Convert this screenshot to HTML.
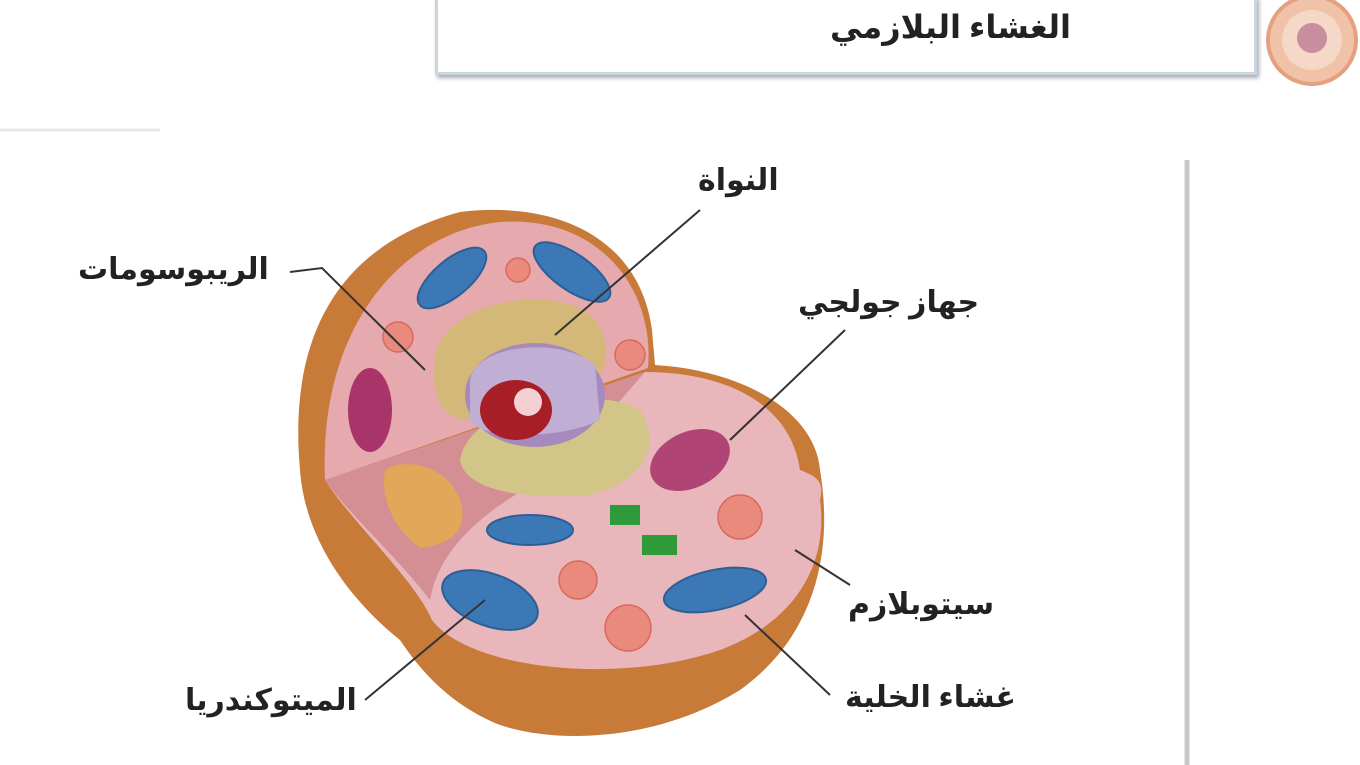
<!DOCTYPE html><html><head><meta charset="utf-8"><style>
body{margin:0;background:#fff;width:1360px;height:765px;overflow:hidden;position:relative;font-family:"Liberation Serif","Noto Serif CJK SC","DejaVu Sans",serif}
.l{position:absolute;font-weight:bold;font-size:30px;color:#222;direction:rtl;white-space:nowrap}
</style></head><body>
<div style="position:absolute;left:435px;top:-4px;width:816px;height:76px;border:3px solid #c9d6dd;border-top:none;box-shadow:2px 3px 4px #aab"></div>
<div class="l" style="left:830px;top:8px;font-size:32px">الغشاء البلازمي</div>
<svg width="1360" height="765" style="position:absolute;left:0;top:0">
<circle cx="1312" cy="40" r="44" fill="#f0c2a8" stroke="#e4a080" stroke-width="4"/>
<circle cx="1312" cy="40" r="30" fill="#f6d8c8"/>
<circle cx="1312" cy="38" r="15" fill="#c88fa0"/>
<line x1="0" y1="130" x2="160" y2="130" stroke="#e8e8e8" stroke-width="3"/>
<line x1="1187" y1="160" x2="1187" y2="765" stroke="#c8c8c8" stroke-width="5"/>
<path d="M300,470 C290,360 320,250 460,212 C560,200 640,240 652,330 L655,365 C740,370 815,410 820,470 C835,560 810,640 740,690 C660,740 560,745 500,725 C450,705 420,670 400,640 C350,600 305,540 300,470Z" fill="#c87a38"/>
<path d="M325,480 C318,330 400,232 500,222 C600,215 655,290 648,368 Z" fill="#e5a9ae"/>
<path d="M325,480 L645,372 C720,372 790,400 800,470 C815,476 825,480 820,500 C828,560 800,620 720,650 C620,685 470,670 432,620 C415,580 350,520 325,480Z" fill="#e9b6bb"/>
<path d="M325,480 L645,372 L560,470 C500,500 440,540 430,600 C400,560 345,510 325,480Z" fill="#d38f93"/>
<g fill="#3d78b6" stroke="#2c5f96" stroke-width="2">
<ellipse cx="452" cy="278" rx="42" ry="18" transform="rotate(-40 452 278)"/>
<ellipse cx="572" cy="272" rx="45" ry="18" transform="rotate(35 572 272)"/>
<ellipse cx="530" cy="530" rx="43" ry="15"/>
<ellipse cx="490" cy="600" rx="50" ry="26" transform="rotate(20 490 600)"/>
<ellipse cx="715" cy="590" rx="52" ry="20" transform="rotate(-12 715 590)"/>
</g>
<g fill="#e98a7d" stroke="#d86a5c" stroke-width="1.5">
<circle cx="518" cy="270" r="12"/><circle cx="398" cy="337" r="15"/><circle cx="630" cy="355" r="15"/>
<circle cx="740" cy="517" r="22"/><circle cx="578" cy="580" r="19"/><circle cx="628" cy="628" r="23"/>
</g>
<ellipse cx="370" cy="410" rx="22" ry="42" fill="#a8346a"/>
<path d="M385,470 C410,455 450,470 460,500 C470,530 450,545 420,548 C395,530 380,500 385,470Z" fill="#e0a858"/>
<path d="M435,360 C440,300 560,280 595,320 C620,360 600,390 560,400 L470,420 C445,420 430,400 435,360Z" fill="#d3b878"/>
<path d="M460,460 C470,400 600,385 640,410 C660,440 650,480 590,495 C520,500 465,490 460,460Z" fill="#d3c588"/>
<ellipse cx="535" cy="395" rx="70" ry="52" fill="#a68abd"/>
<path d="M470,380 C475,345 560,335 595,365 L600,420 C560,440 480,440 470,420Z" fill="#c1aed4"/>
<ellipse cx="516" cy="410" rx="36" ry="30" fill="#a81e26"/>
<circle cx="528" cy="402" r="14" fill="#f4d0d4"/>
<ellipse cx="690" cy="460" rx="42" ry="28" transform="rotate(-25 690 460)" fill="#b04474"/>
<rect x="610" y="505" width="30" height="20" fill="#2f9a3a"/>
<rect x="642" y="535" width="35" height="20" fill="#2f9a3a"/>
<g stroke="#333" stroke-width="2" fill="none">
<line x1="700" y1="210" x2="555" y2="335"/>
<polyline points="290,272 322,268 425,370"/>
<line x1="845" y1="330" x2="730" y2="440"/>
<line x1="850" y1="585" x2="795" y2="550"/>
<line x1="830" y1="695" x2="745" y2="615"/>
<line x1="365" y1="700" x2="485" y2="600"/>
</g>
</svg>
<div class="l" style="left:698px;top:163px">النواة</div>
<div class="l" style="left:78px;top:252px">الريبوسومات</div>
<div class="l" style="left:798px;top:285px">جهاز جولجي</div>
<div class="l" style="left:848px;top:587px">سيتوبلازم</div>
<div class="l" style="left:185px;top:683px">الميتوكندريا</div>
<div class="l" style="left:845px;top:680px">غشاء الخلية</div>
</body></html>
